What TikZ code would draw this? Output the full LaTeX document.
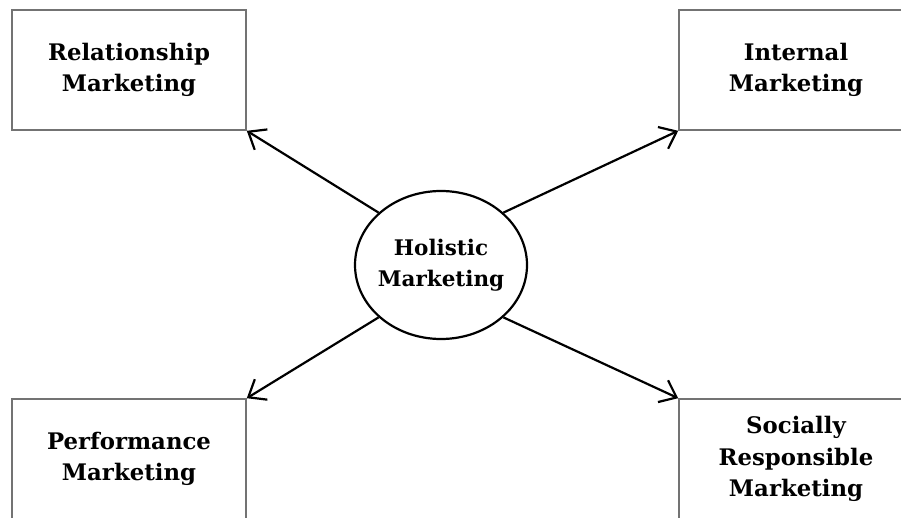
\documentclass[tikz,border=0pt]{standalone}
\usepackage{fontspec}
\setmainfont{DejaVu Serif}
\usepackage{tikz}
\usetikzlibrary{shapes.geometric,arrows.meta}

\begin{document}
\begin{tikzpicture}[x=1pt,y=-1pt,
    box/.style={draw=black!55, line width=1.6pt, minimum width=234pt, minimum height=120pt, align=center, font=\fontsize{22.8}{31.5}\selectfont\bfseries},
    hub/.style={draw, ellipse, line width=2.2pt, inner sep=-12pt, minimum width=172pt, minimum height=148pt, align=center, font=\fontsize{21.5}{31}\selectfont\bfseries},
    link/.style={line width=2.2pt, -{Straight Barb[length=15pt,width=24pt,line width=2.2pt]}}]
    \useasboundingbox (0,0) rectangle (901,518);
    \clip (0,0) rectangle (901,518);
    % Centre
    \node[hub] (holistic) at (441,265) {Holistic\\Marketing};
    % Four kinds
    \node[box] (rel) at (129,70) {Relationship\\Marketing};
    \node[box] (int) at (796,70) {Internal\\Marketing};
    \node[box] (perf) at (129,459) {Performance\\Marketing};
    \node[box] (soc) at (796,459) {Socially\\Responsible\\Marketing};
    % Arrows
    \draw[link] (holistic.140) -- (rel.south east);
    \draw[link] (holistic.40) -- (int.south west);
    \draw[link] (holistic.220) -- (perf.north east);
    \draw[link] (holistic.320) -- (soc.north west);
\end{tikzpicture}
\end{document}
